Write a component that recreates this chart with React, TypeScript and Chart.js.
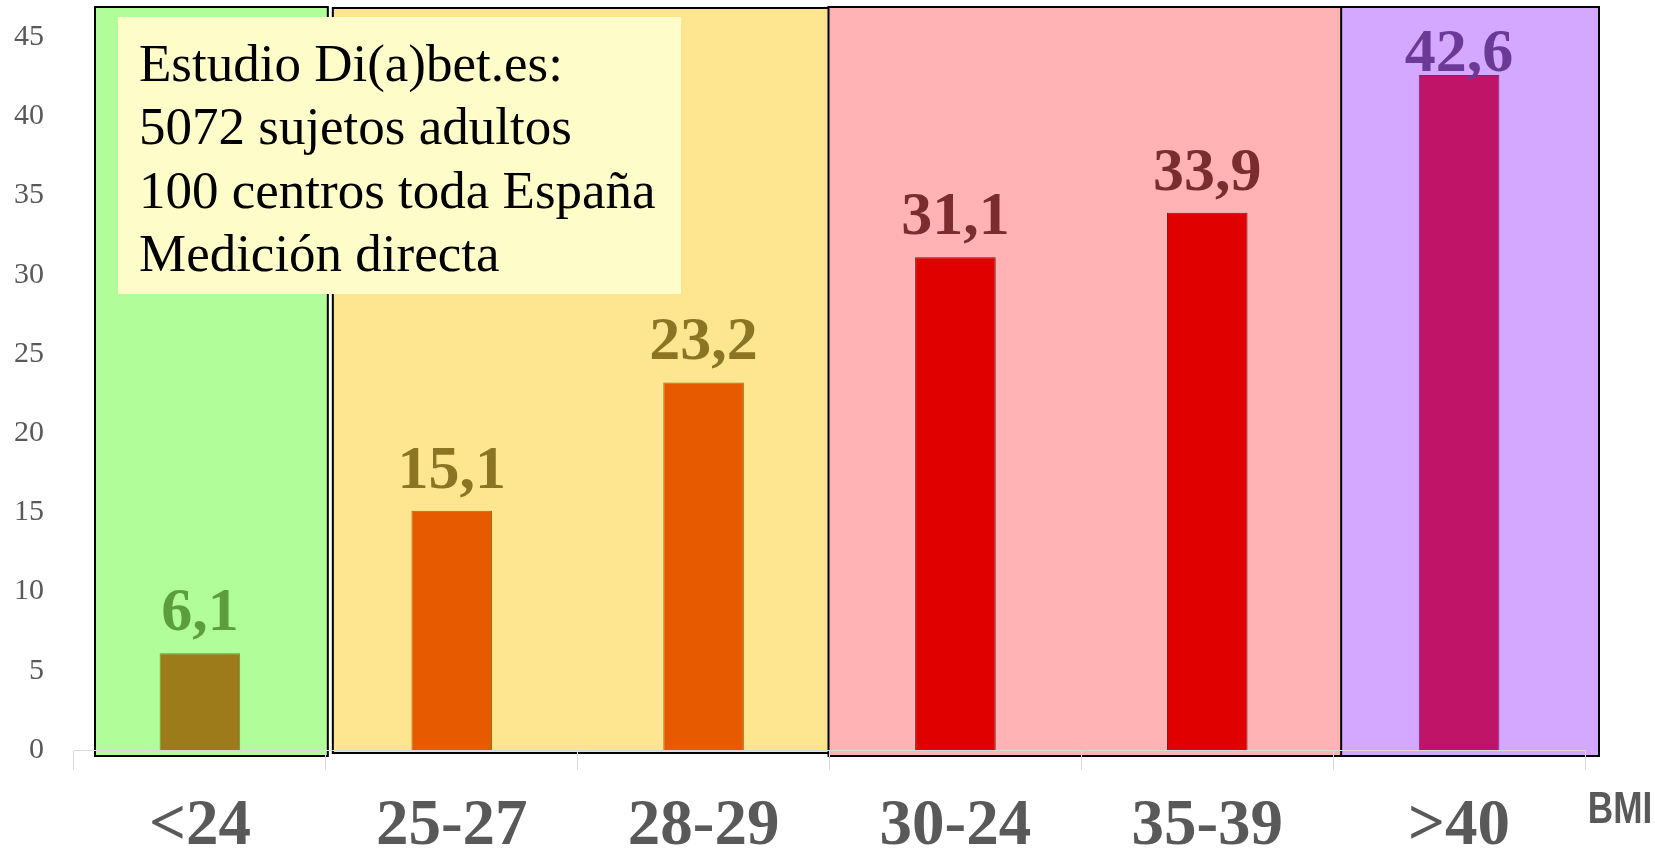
import React, { useEffect, useRef } from "react";
import { Chart, registerables } from "chart.js";

Chart.register(...registerables);

// BMI groups and prevalence (%) of the study population
const categories = ["<24", "25-27", "28-29", "30-24", "35-39", ">40"];
const prevalence = [6.1, 15.1, 23.2, 31.1, 33.9, 42.6];
const yMin = 0;
const yMax = 45;
const yStep = 5;

const barFill = ["#9e7b1a", "#e85a00", "#e85a00", "#e00000", "#e00000", "#c01469"];
const barEdge = ["#5e9a2e", "#9a6a10", "#9a6a10", "#6a1a1a", "#6a1a1a", "#6a2a8a"];
const labelInk = ["#5c9e3e", "#8b7525", "#8b7525", "#7a2c2e", "#7a2c2e", "#6b3a96"];

// shaded BMI bands: first and last category index of each band
const bandFirst = [0, 1, 3, 5];
const bandLast = [0, 2, 4, 5];
const bandFill = ["#b1fd9a", "#fde68f", "#ffb3b5", "#d4a8fe"];

const noteLines = [
  "Estudio Di(a)bet.es:",
  "5072 sujetos adultos",
  "100 centros toda España",
  "Medición directa",
];
const axisName = "BMI";

const fmt = (v: number) => v.toFixed(1).replace(".", ",");

export default function App() {
  const canvasRef = useRef<HTMLCanvasElement | null>(null);

  useEffect(() => {
    const canvas = canvasRef.current;
    if (!canvas) return;

    const bands = {
      id: "bands",
      beforeDraw(chart: any) {
        const { ctx } = chart;
        const x = chart.scales.x;
        const area = chart.chartArea;
        ctx.save();
        ctx.fillStyle = "#ffffff";
        ctx.fillRect(0, 0, chart.width, chart.height);
        const step = x.getPixelForValue(1) - x.getPixelForValue(0);
        const edge = (i: number) => x.getPixelForValue(i) - step / 2;
        // small insets so the bands sit like hand-placed frames
        const insetL = [21, 7, -1, 8];
        const insetR = [2, 0, 9, 14];
        const tops = [7, 8, 7, 7];
        const bottoms = [6, 3, 6, 6];
        for (let b = 0; b < bandFirst.length; b++) {
          const l = edge(bandFirst[b]) + insetL[b];
          const r = edge(bandLast[b] + 1) + insetR[b];
          const t = tops[b];
          const btm = area.bottom + bottoms[b];
          ctx.fillStyle = bandFill[b];
          ctx.fillRect(l, t, r - l, btm - t);
          ctx.lineWidth = 2;
          ctx.strokeStyle = "#000000";
          ctx.strokeRect(l, t, r - l, btm - t);
        }
        ctx.restore();
      },
    };

    const overlay = {
      id: "overlay",
      afterDatasetsDraw(chart: any) {
        const { ctx } = chart;
        const meta = chart.getDatasetMeta(0);
        const area = chart.chartArea;
        ctx.save();
        // value labels above each bar
        ctx.font = "bold 62px 'Liberation Serif', 'Times New Roman', serif";
        ctx.textAlign = "center";
        ctx.textBaseline = "alphabetic";
        meta.data.forEach((bar: any, i: number) => {
          const base = Math.max(bar.y - 23, area.top + 34);
          ctx.fillStyle = labelInk[i];
          ctx.fillText(fmt(prevalence[i]), bar.x, base);
        });

        // study note box
        ctx.fillStyle = "#fefcc8";
        ctx.fillRect(118, 17, 563, 277);
        ctx.fillStyle = "#000000";
        ctx.textAlign = "left";
        ctx.font = "53px 'Liberation Serif', 'Times New Roman', serif";
        noteLines.forEach((line, i) => {
          ctx.fillText(line, 139, 81 + i * 63.3);
        });

        // axis name at the right end of the category axis (condensed bold sans)
        ctx.font = "bold 44px 'Liberation Sans', Arial, sans-serif";
        ctx.fillStyle = "#595959";
        ctx.textAlign = "center";
        ctx.textBaseline = "middle";
        ctx.translate(1620, 811);
        ctx.scale(0.8, 1);
        ctx.fillText(axisName, 0, 0);
        ctx.restore();
      },
    };

    const chart = new Chart(canvas, {
      type: "bar",
      data: {
        labels: categories,
        datasets: [
          {
            data: prevalence,
            backgroundColor: barFill,
            borderColor: barEdge,
            borderWidth: 1,
            barPercentage: 0.32,
            categoryPercentage: 1,
          },
        ],
      },
      options: {
        responsive: false,
        animation: false,
        devicePixelRatio: 1,
        layout: { padding: { top: 37, right: 70, left: 0, bottom: 0 } },
        plugins: {
          legend: { display: false },
          tooltip: { enabled: false },
        },
        scales: {
          x: {
            grid: {
              offset: true,
              drawOnChartArea: false,
              drawTicks: true,
              tickLength: 20,
              color: "#d9d9d9",
            },
            border: { display: true, color: "#d9d9d9", width: 1 },
            ticks: {
              color: "#595959",
              padding: 18,
              font: { family: "'Liberation Serif', 'Times New Roman', serif", size: 65, weight: "bold" },
            },
            afterFit(scale: any) {
              scale.height = 101;
            },
          },
          y: {
            min: yMin,
            max: yMax,
            grid: { display: false, drawTicks: false },
            border: { display: false },
            ticks: {
              stepSize: yStep,
              color: "#595959",
              padding: 30,
              font: { family: "'Liberation Serif', 'Times New Roman', serif", size: 30 },
            },
            afterFit(scale: any) {
              scale.width = 74;
              scale.paddingTop = 0;
              scale.paddingBottom = 0;
            },
          },
        },
      },
      plugins: [bands, overlay],
    });

    return () => chart.destroy();
  }, []);

  return (
    <div style={{ position: "fixed", left: 0, top: 0, width: 1655, height: 851, background: "#fff" }}>
      <canvas ref={canvasRef} width={1655} height={851} style={{ display: "block" }} />
    </div>
  );
}
